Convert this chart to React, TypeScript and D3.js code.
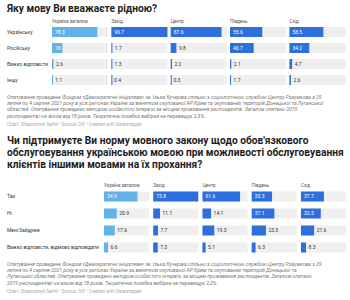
import React from "react";
import { scaleBand, scaleLinear, max } from "d3";

const regions = ["Україна загалом", "Захід", "Центр", "Південь", "Схід"];

// chart 1
const langRows = ["Українську", "Російську", "Важко відповісти", "Іншу"];
const langTotal = [78.3, 18, 2.6, 1.1];
const langWest = [96.7, 1.7, 1.3, 0.4];
const langCenter = [87.6, 9.8, 2.2, 0.3];
const langSouth = [55.6, 40.7, 2.1, 1.7];
const langEast = [58.5, 34.2, 4.7, 2.6];

// chart 2
const lawRows = ["Так", "Ні", "Мені байдуже", "Важко відповісти, відмово відповідати"];
const lawTotal = [54.9, 20.9, 17.6, 6.6];
const lawWest = [73.8, 11.1, 7.7, 7.3];
const lawCenter = [61.6, 14.1, 19.3, 5.1];
const lawSouth = [33.3, 37.1, 23.3, 6.3];
const lawEast = [37.7, 32.5, 21.6, 8.3];

const title1 = ["Яку мову Ви вважаєте рідною?"];
const title2 = [
  "Чи підтримуєте Ви норму мовного закону щодо обов'язкового",
  "обслуговування українською мовою при можливості обслуговування",
  "клієнтів іншими мовами на їх прохання?",
];

const notes1 = [
  "Опитування проведене Фондом «Демократичні ініціативи» ім. Ілька Кучеріва спільно з соціологічною службою Центру Разумкова з 29",
  "липня по 4 серпня 2021 року в усіх регіонах України за винятком окупованої АР Крим та окупованих територій Донецької та Луганської",
  "областей. Опитування проведено методом особистого інтерв'ю за місцем проживання респондентів. Загалом опитано 2019",
  "респондентів/-ок віком від 18 років. Теоретична похибка вибірки не перевищує 2,3%.",
];
const notes2 = [
  "Опитування проведене Фондом «Демократичні ініціативи» ім. Ілька Кучеріва спільно з соціологічною службою Центру Разумкова з 29",
  "липня по 4 серпня 2021 року в усіх регіонах України за винятком окупованої АР Крим та окупованих територій Донецької та",
  "Луганської областей. Опитування проведено методом особистого інтерв'ю за місцем проживання респондентів. Загалом опитано",
  "2019 респондентів/-ок віком від 18 років. Теоретична похибка вибірки не перевищує 2,3%.",
];
const credit = "Chart: Shaposhnyk Serhii • Source: DIF • Created with Datawrapper";

const FONT = "Roboto, 'Noto Sans', sans-serif";
const LIGHT = "#62b2ea";
const DARK = "#2c6fdd";
const BG = "#efefef";

function Table({ rows, cols, top, headY, colRange, pad, step, titles, notes, noteTop }) {
  const y = scaleBand().domain(rows).range([headY + 1.5, headY + 1.5 + rows.length * step]);
  const x = scaleBand().domain(regions).range(colRange).paddingInner(pad);
  const w = scaleLinear()
    .domain([0, max(cols.flat())])
    .range([0, x.bandwidth()]);
  const bh = 10;
  return (
    <g>
      {titles.map((t, i) => (
        <text key={t} x={7} y={top + i * 12} fontSize={10.2} fontWeight="bold" fill="#1d1d1d" fontFamily={FONT}>
          {t}
        </text>
      ))}
      {regions.map((r) => (
        <text key={r} x={x(r)} y={headY} fontSize={4.6} fill="#555" fontFamily={FONT}>
          {r}
        </text>
      ))}
      {rows.map((row, ri) => {
        const cy = y(row) + y.bandwidth() / 2;
        return (
          <g key={row}>
            <text x={7} y={cy + 1.8} fontSize={5} fill="#333" fontFamily={FONT}>
              {row}
            </text>
            {regions.map((r, ci) => {
              const v = cols[ci][ri];
              const bw = w(v);
              const s = String(v);
              const tw = s.length * 2.7;
              const inside = bw > tw + 4;
              return (
                <g key={r}>
                  <rect x={x(r)} y={cy - bh / 2} width={x.bandwidth()} height={bh} fill={BG} />
                  <rect x={x(r)} y={cy - bh / 2} width={Math.max(bw, 1)} height={bh} fill={ci === 0 ? LIGHT : DARK} />
                  <text
                    x={inside ? x(r) + 3 : x(r) + bw + 2.5}
                    y={cy + 1.8}
                    fontSize={5}
                    fill={inside ? "#fff" : "#333"}
                    fontFamily={FONT}
                  >
                    {s}
                  </text>
                </g>
              );
            })}
          </g>
        );
      })}
      {notes.map((n, i) => (
        <text key={i} x={7} y={noteTop + i * 6.2} fontSize={5.1} fontStyle="italic" fill="#777" fontFamily={FONT}>
          {n}
        </text>
      ))}
      <text x={7} y={noteTop + notes.length * 6.2 + 2} fontSize={4.6} fill="#aaa" fontFamily={FONT}>
        {credit}
      </text>
    </g>
  );
}

export default function App() {
  return (
    <svg width={350} height={300} style={{ position: "absolute", left: 0, top: 0, background: "#fff" }}>
      <Table
        rows={langRows}
        cols={[langTotal, langWest, langCenter, langSouth, langEast]}
        top={12}
        headY={22.5}
        colRange={[52, 345.5]}
        pad={0.055}
        step={16}
        titles={title1}
        notes={notes1}
        noteTop={99}
      />
      <Table
        rows={lawRows}
        cols={[lawTotal, lawWest, lawCenter, lawSouth, lawEast]}
        top={144}
        headY={186.5}
        colRange={[104, 346]}
        pad={0.085}
        step={17}
        titles={title2}
        notes={notes2}
        noteTop={266}
      />
    </svg>
  );
}
